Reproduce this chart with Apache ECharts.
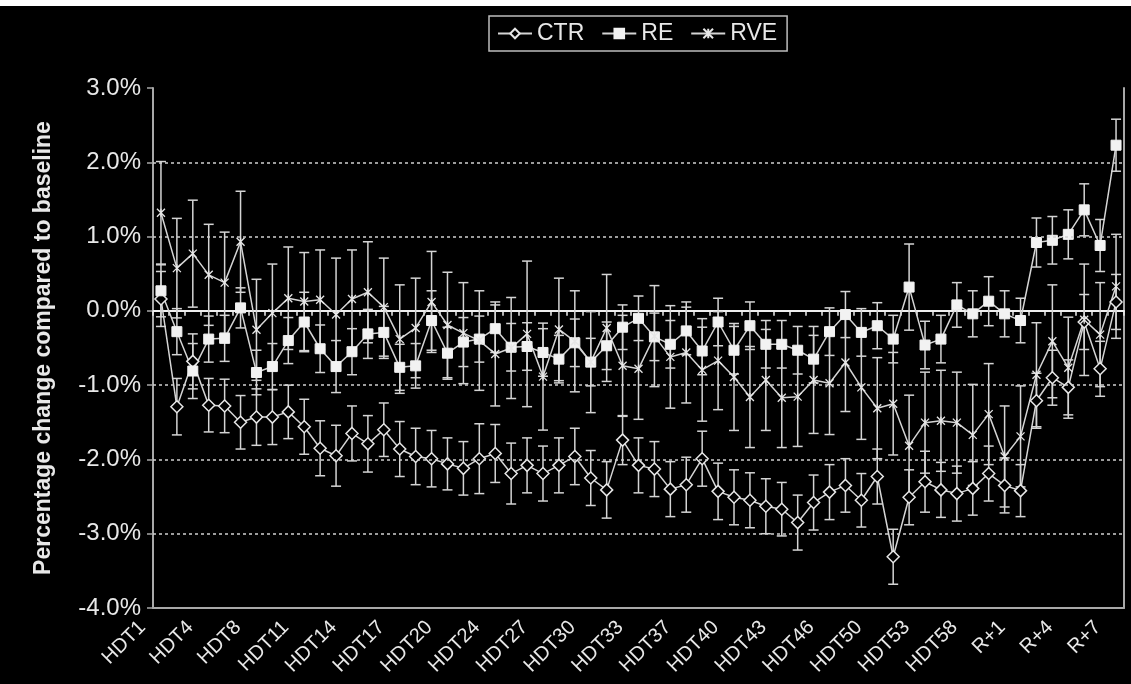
<!DOCTYPE html>
<html>
<head>
<meta charset="utf-8">
<script src="https://cdn.jsdelivr.net/npm/echarts@6/dist/echarts.min.js"></script>
<style>
html,body{margin:0;padding:0;background:#000;}
#chart{width:1131px;height:684px;}
</style>
</head>
<body>
<div id="chart"></div>
<script>
const categories = ['HDT1','HDT2','HDT3','HDT4','HDT5','HDT6','HDT8','HDT9','HDT10','HDT11',
  'HDT12','HDT13','HDT14','HDT15','HDT16','HDT17','HDT18','HDT19','HDT20','HDT21',
  'HDT22','HDT24','HDT25','HDT26','HDT27','HDT28','HDT29','HDT30','HDT31','HDT32',
  'HDT33','HDT34','HDT35','HDT37','HDT38','HDT39','HDT40','HDT41','HDT42','HDT43',
  'HDT44','HDT45','HDT46','HDT47','HDT48','HDT50','HDT51','HDT52','HDT53','HDT54',
  'HDT56','HDT58','HDT59','HDT60','R+1','R+2','R+3','R+4','R+5','R+6','R+7'];

const ctrValues = [0.16,-1.29,-0.68,-1.27,-1.28,-1.50,-1.43,-1.43,-1.36,-1.56,
  -1.85,-1.95,-1.65,-1.79,-1.60,-1.86,-1.96,-1.99,-2.06,-2.12,
  -1.99,-1.92,-2.19,-2.08,-2.19,-2.08,-1.96,-2.25,-2.41,-1.74,
  -2.08,-2.13,-2.40,-2.34,-1.99,-2.43,-2.51,-2.55,-2.63,-2.67,
  -2.85,-2.58,-2.44,-2.35,-2.55,-2.23,-3.31,-2.51,-2.30,-2.41,
  -2.46,-2.39,-2.19,-2.35,-2.42,-1.21,-0.90,-1.03,-0.15,-0.78,
  0.12];
const ctrErrors = [0.37,0.38,0.37,0.36,0.36,0.36,0.38,0.37,0.36,0.37,
  0.37,0.41,0.37,0.38,0.36,0.37,0.38,0.38,0.35,0.36,
  0.47,0.39,0.41,0.37,0.37,0.37,0.38,0.37,0.38,0.33,
  0.37,0.37,0.37,0.37,0.37,0.38,0.37,0.37,0.37,0.36,
  0.37,0.37,0.37,0.36,0.36,0.37,0.37,0.37,0.41,0.37,
  0.37,0.36,0.37,0.37,0.35,0.37,0.37,0.37,0.37,0.37,
  0.37];

const reValues = [0.27,-0.28,-0.81,-0.38,-0.37,0.04,-0.83,-0.75,-0.40,-0.15,
  -0.51,-0.75,-0.55,-0.31,-0.29,-0.76,-0.74,-0.13,-0.57,-0.42,
  -0.38,-0.24,-0.49,-0.48,-0.56,-0.65,-0.43,-0.69,-0.47,-0.22,
  -0.10,-0.35,-0.45,-0.27,-0.54,-0.15,-0.53,-0.20,-0.45,-0.45,
  -0.53,-0.65,-0.28,-0.05,-0.29,-0.20,-0.38,0.32,-0.46,-0.38,
  0.08,-0.04,0.13,-0.04,-0.13,0.92,0.95,1.03,1.36,0.88,
  2.23];
const reErrors = [0.35,0.31,0.37,0.31,0.31,0.27,0.30,0.31,0.31,0.40,
  0.32,0.35,0.31,0.33,0.35,0.31,0.30,0.40,0.35,0.33,
  0.31,0.32,0.32,0.32,0.32,0.32,0.32,0.32,0.32,0.30,
  0.30,0.32,0.32,0.32,0.32,0.32,0.32,0.32,0.32,0.32,
  0.32,0.32,0.32,0.31,0.32,0.31,0.32,0.58,0.32,0.32,
  0.30,0.31,0.33,0.31,0.30,0.33,0.32,0.33,0.35,0.35,
  0.35];

const rveValues = [1.32,0.575,0.77,0.485,0.38,0.93,-0.255,-0.03,0.17,0.125,
  0.15,-0.05,0.16,0.25,0.05,-0.38,-0.23,0.12,-0.19,-0.30,
  -0.40,-0.58,-0.50,-0.31,-0.885,-0.25,-0.41,-0.69,-0.23,-0.74,
  -0.78,-0.34,-0.62,-0.56,-0.795,-0.67,-0.89,-1.16,-0.93,-1.17,
  -1.155,-0.93,-0.975,-0.695,-1.03,-1.31,-1.25,-1.815,-1.505,-1.48,
  -1.505,-1.67,-1.39,-1.96,-1.69,-0.86,-0.41,-0.765,-0.12,-0.32,
  0.33];
const rveErrors = [0.69,0.67,0.72,0.68,0.68,0.68,0.68,0.66,0.69,0.66,
  0.67,0.76,0.66,0.68,0.66,0.73,0.67,0.68,0.71,0.68,
  0.67,0.70,0.68,0.98,0.72,0.69,0.68,0.68,0.72,0.68,
  0.68,0.68,0.69,0.68,0.69,0.66,0.72,0.68,0.68,0.67,
  0.67,0.72,0.69,0.66,0.70,0.68,0.69,0.68,0.68,0.68,
  0.68,0.68,0.68,0.68,0.68,0.70,0.76,0.68,0.75,0.70,
  0.70];

const seriesNames = ['CTR','RE','RVE'];
const gridLevels = [-3,-2,-1,1,2];

const FONT = '"Liberation Sans", Arial, Helvetica, sans-serif';
const LINE_COLOR = '#d4d4d4';
const TEXT_COLOR = '#e8e8e8';

function errorData(values, errors) {
  return values.map(function (v, i) { return [i, v, errors[i]]; });
}

function renderError(params, api) {
  const i = api.value(0), v = api.value(1), e = api.value(2);
  const top = api.coord([i, v + e]);
  const bot = api.coord([i, v - e]);
  const w = 5;
  const style = { stroke: LINE_COLOR, lineWidth: 1.5, fill: null };
  return {
    type: 'group',
    children: [
      { type: 'line', shape: { x1: top[0], y1: top[1], x2: bot[0], y2: bot[1] }, style: style },
      { type: 'line', shape: { x1: top[0] - w, y1: top[1], x2: top[0] + w, y2: top[1] }, style: style },
      { type: 'line', shape: { x1: bot[0] - w, y1: bot[1], x2: bot[0] + w, y2: bot[1] }, style: style }
    ]
  };
}

function errSeries(name, values, errors) {
  return {
    name: name + ' error',
    type: 'custom',
    xAxisIndex: 0,
    yAxisIndex: 0,
    renderItem: renderError,
    encode: { x: 0, y: 1 },
    data: errorData(values, errors),
    z: 2,
    silent: true
  };
}

const chart = echarts.init(document.getElementById('chart'), null, { renderer: 'canvas' });

const option = {
  backgroundColor: '#000',
  animation: false,
  textStyle: { fontFamily: FONT },
  graphic: [
    { type: 'rect', left: 0, top: 0, shape: { width: 1131, height: 6 }, style: { fill: '#fff' }, silent: true }
  ],
  legend: {
    data: seriesNames,
    top: 16,
    left: 489,
    itemWidth: 34,
    itemHeight: 12,
    itemGap: 17,
    padding: [6, 10, 6, 8],
    borderColor: '#bdbdbd',
    borderWidth: 1.5,
    textStyle: { color: TEXT_COLOR, fontSize: 23, fontFamily: FONT }
  },
  grid: { left: 153, right: 7, top: 88, bottom: 76, containLabel: false },
  xAxis: [
    {
      type: 'category',
      data: categories,
      position: 'bottom',
      boundaryGap: true,
      axisLine: { show: true, onZero: false, lineStyle: { color: '#a8a8a8', width: 2 } },
      axisTick: { show: false },
      axisLabel: {
        interval: 2, rotate: 45, fontSize: 20, color: TEXT_COLOR, margin: 12, fontFamily: FONT,
        verticalAlign: 'bottom', padding: [0, 16, 0, 0]
      },
      splitLine: { show: false }
    },
    {
      type: 'category',
      data: categories,
      position: 'top',
      boundaryGap: true,
      axisLine: { show: true, onZero: true, onZeroAxisIndex: 0, lineStyle: { color: '#eeeeee', width: 2 } },
      axisTick: { show: true, inside: true, length: 5, interval: 0, lineStyle: { color: '#eeeeee', width: 1.5 } },
      axisLabel: { show: false },
      splitLine: { show: false }
    }
  ],
  yAxis: [
    {
      type: 'value',
      position: 'left',
      min: -4,
      max: 3,
      interval: 1,
      axisLine: { show: true, lineStyle: { color: '#a8a8a8', width: 2 } },
      axisTick: { show: true, length: 6, lineStyle: { color: '#a8a8a8', width: 1.5 } },
      axisLabel: {
        color: TEXT_COLOR, fontSize: 24, margin: 12, fontFamily: FONT,
        formatter: function (v) { return v.toFixed(1) + '%'; }
      },
      splitLine: { show: false },
      name: 'Percentage change compared to baseline',
      nameLocation: 'middle',
      nameGap: 98,
      nameTextStyle: { color: TEXT_COLOR, fontSize: 23, fontWeight: 'bold', fontFamily: FONT }
    },
    {
      type: 'value',
      position: 'right',
      min: -4,
      max: 3,
      interval: 1,
      axisLine: { show: true, lineStyle: { color: '#a8a8a8', width: 2 } },
      axisTick: { show: false },
      axisLabel: { show: false },
      splitLine: { show: false }
    }
  ],
  series: [
    {
      name: 'gridlines',
      type: 'line',
      data: [],
      z: 1,
      silent: true,
      markLine: {
        silent: true,
        symbol: ['none', 'none'],
        label: { show: false },
        lineStyle: { color: '#cfcfcf', type: [3, 3], width: 1.5 },
        data: gridLevels.map(function (g) { return { yAxis: g }; })
      }
    },
    errSeries('CTR', ctrValues, ctrErrors),
    errSeries('RE', reValues, reErrors),
    errSeries('RVE', rveValues, rveErrors),
    {
      name: 'CTR',
      type: 'line',
      data: ctrValues,
      symbol: 'diamond',
      symbolSize: 12,
      showAllSymbol: true,
      z: 4,
      itemStyle: { color: '#000', borderColor: '#e6e6e6', borderWidth: 1.5 },
      lineStyle: { color: LINE_COLOR, width: 1.5 }
    },
    {
      name: 'RE',
      type: 'line',
      data: reValues,
      symbol: 'rect',
      symbolSize: 10,
      showAllSymbol: true,
      z: 4,
      itemStyle: { color: '#f2f2f2', borderColor: '#f2f2f2', borderWidth: 1 },
      lineStyle: { color: LINE_COLOR, width: 1.5 }
    },
    {
      name: 'RVE',
      type: 'line',
      data: rveValues,
      symbol: 'path://M0,0L10,10M10,0L0,10M5,0L5,10',
      symbolSize: 8,
      showAllSymbol: true,
      z: 4,
      itemStyle: { color: 'none', borderColor: '#e6e6e6', borderWidth: 1.3 },
      lineStyle: { color: LINE_COLOR, width: 1.5 }
    }
  ]
};

chart.setOption(option);
</script>
</body>
</html>
